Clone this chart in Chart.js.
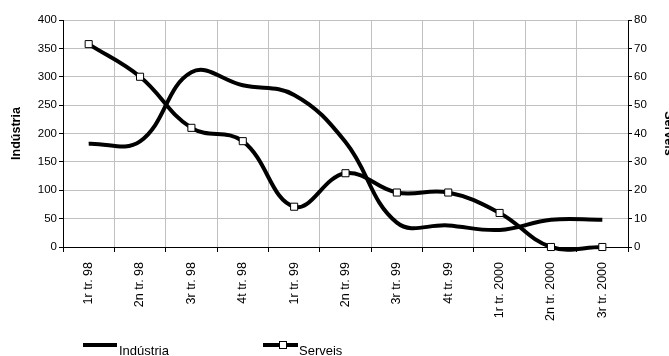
<!DOCTYPE html>
<html>
<head>
<meta charset="utf-8">
<script src="https://cdn.jsdelivr.net/npm/chart.js@4.4.0/dist/chart.umd.min.js"></script>
<style>
html, body { margin: 0; padding: 0; overflow: hidden; background: #fff; }
#wrap { width: 680px; height: 356px; }
</style>
</head>
<body>
<div id="wrap"><canvas id="grafic"></canvas></div>
<script>
// Dades del gràfic
const trimestres = ['1r tr. 98', '2n tr. 98', '3r tr. 98', '4t tr. 98', '1r tr. 99', '2n tr. 99',
                    '3r tr. 99', '4t tr. 99', '1r tr. 2000', '2n tr. 2000', '3r tr. 2000'];
const industria = [182, 186, 308, 285, 268, 185, 43, 38, 30, 48, 48];
const serveis = [71.5, 60, 42, 37.3, 14.2, 26, 19.2, 19.2, 12, 0, 0];
const nomsSeries = ['Indústria', 'Serveis'];

const font = '"Liberation Sans", Arial, sans-serif';
const gris = '#c0c0c0';

// Llegenda dibuixada a mà (línia + quadrat com a l'original)
const llegenda = {
    id: 'llegenda',
    afterDraw(chart) {
        const ctx = chart.ctx;
        const y = 345;
        ctx.save();
        ctx.strokeStyle = '#000';
        ctx.lineWidth = 4;
        ctx.beginPath();
        ctx.moveTo(83, y); ctx.lineTo(117, y);
        ctx.moveTo(263, y); ctx.lineTo(298, y);
        ctx.stroke();
        ctx.lineWidth = 1;
        ctx.fillStyle = '#fff';
        ctx.fillRect(279.5, y - 3.5, 7, 7);
        ctx.strokeRect(279.5, y - 3.5, 7, 7);
        ctx.fillStyle = '#000';
        ctx.font = '13px ' + font;
        ctx.textBaseline = 'alphabetic';
        ctx.fillText(nomsSeries[0], 119, 355);
        ctx.fillText(nomsSeries[1], 299, 355);
        ctx.restore();
    }
};

const ctx = document.getElementById('grafic').getContext('2d');
new Chart(ctx, {
    type: 'line',
    data: {
        labels: trimestres,
        datasets: [{
            label: nomsSeries[0],
            data: industria,
            yAxisID: 'y',
            borderColor: '#000',
            borderWidth: 4,
            pointRadius: 0,
            tension: 0.4,
            fill: false,
            clip: false
        }, {
            label: nomsSeries[1],
            data: serveis,
            yAxisID: 'y1',
            borderColor: '#000',
            borderWidth: 4,
            pointStyle: 'rect',
            pointRadius: 5,
            pointBackgroundColor: '#fff',
            pointBorderColor: '#000',
            pointBorderWidth: 1,
            tension: 0.4,
            fill: false,
            clip: false
        }]
    },
    options: {
        responsive: true,
        maintainAspectRatio: false,
        animation: false,
        layout: { padding: { top: 20, bottom: 0, left: 0, right: 0 } },
        elements: { line: { capBezierPoints: false } },
        plugins: {
            legend: { display: false },
            tooltip: { enabled: false }
        },
        scales: {
            x: {
                offset: true,
                grid: { offset: true, color: gris, tickColor: '#000', tickLength: 5 },
                border: { color: '#000', width: 1 },
                ticks: {
                    autoSkip: false,
                    minRotation: 90,
                    maxRotation: 90,
                    padding: 10,
                    color: '#000',
                    font: { family: font, size: 12.5 }
                },
                afterFit(scale) { scale.height = 109; }
            },
            y: {
                position: 'left',
                min: 0,
                max: 400,
                ticks: { stepSize: 50, padding: 2, color: '#000', font: { family: font, size: 11.5 } },
                grid: { color: gris, tickColor: '#000', tickLength: 4 },
                border: { color: '#000', width: 1 },
                title: {
                    display: true,
                    text: nomsSeries[0],
                    color: '#000',
                    padding: { top: 9.5, bottom: 0 },
                    font: { family: font, size: 12.5, weight: 'bold' }
                },
                afterFit(scale) { scale.width = 63; }
            },
            y1: {
                position: 'right',
                min: 0,
                max: 80,
                ticks: { stepSize: 10, padding: 2, color: '#000', font: { family: font, size: 11.5 } },
                grid: { drawOnChartArea: false, tickColor: '#000', tickLength: 4 },
                border: { color: '#000', width: 1 },
                title: {
                    display: true,
                    text: nomsSeries[1],
                    color: '#000',
                    padding: { top: 4.5, bottom: 0 },
                    font: { family: font, size: 12.5, weight: 'bold' }
                },
                afterFit(scale) { scale.width = 52; }
            }
        }
    },
    plugins: [llegenda]
});
</script>
</body>
</html>
